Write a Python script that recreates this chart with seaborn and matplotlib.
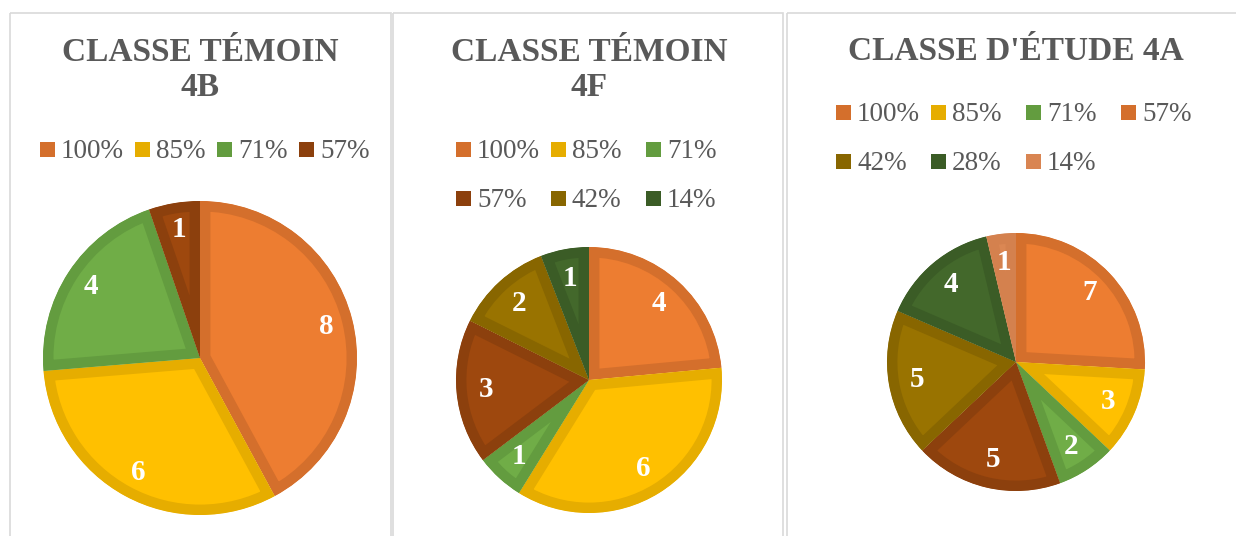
import matplotlib
matplotlib.use("Agg")
import matplotlib.pyplot as plt
from matplotlib.patches import Rectangle
import seaborn as sns

# ------------------------------------------------------------
# Data
# ------------------------------------------------------------
titles = ["CLASSE TÉMOIN\n4B", "CLASSE TÉMOIN\n4F", "CLASSE D'ÉTUDE 4A"]

labels_4b = ["100%", "85%", "71%", "57%"]
counts_4b = [8, 6, 4, 1]

labels_4f = ["100%", "85%", "71%", "57%", "42%", "14%"]
counts_4f = [4, 6, 1, 3, 2, 1]

labels_4a = ["100%", "85%", "71%", "57%", "42%", "28%", "14%"]
counts_4a = [7, 3, 2, 5, 5, 4, 1]

# Excel office palette, assigned by slice position
fill_colors = ["#ED7D31", "#FFC000", "#70AD47", "#9E480E",
               "#997300", "#43682B", "#DB8753"]
edge_colors = ["#D46F2C", "#E6AD00", "#639C3F", "#8C400D",
               "#886600", "#3B5C26", "#D4814E"]
# the legend of 4A shows 57% with the orange swatch
legend_colors_4a = ["#D46F2C", "#E6AD00", "#639C3F", "#D46F2C",
                    "#886600", "#3B5C26", "#D98552"]

# ------------------------------------------------------------
# Layout (pixels)
# ------------------------------------------------------------
W, H = 1236, 536
panels = [(10, 391), (393, 783), (787, 1240)]
centers = [(200, 358, 157), (589, 380, 133), (1016, 362, 129)]
title_y = [70, 70, 51]
legend_cols = [[40, 135, 217, 299], [456, 551, 646], [836, 931, 1026, 1121]]
legend_rows = [[150], [150, 199], [113, 162]]
label_dist = [0.83, 0.78, 0.78]

sns.set_style("white")
plt.rcParams["font.family"] = ["Liberation Serif", "DejaVu Serif"]

fig = plt.figure(figsize=(W / 100, H / 100), dpi=100)
bg = fig.add_axes([0, 0, 1, 1])
bg.set_xlim(0, W)
bg.set_ylim(H, 0)
bg.axis("off")

text_gray = "#595959"

datasets = [
    (labels_4b, counts_4b, edge_colors[:len(labels_4b)]),
    (labels_4f, counts_4f, edge_colors[:len(labels_4f)]),
    (labels_4a, counts_4a, legend_colors_4a),
]

for i, (labels, counts, leg_colors) in enumerate(datasets):
    x0, x1 = panels[i]
    # panel frame
    bg.add_patch(Rectangle((x0, 13), x1 - x0, H + 20, fill=False,
                           edgecolor="#D9D9D9", linewidth=1.2))

    # title
    cx, cy, r = centers[i]
    bg.text(cx, title_y[i], titles[i],
            ha="center", va="center", fontsize=24, fontweight="bold",
            color=text_gray, linespacing=1.15)

    # legend
    cols = legend_cols[i]
    rows = legend_rows[i]
    for k, lab in enumerate(labels):
        lx = cols[k % len(cols)]
        ly = rows[k // len(cols)]
        bg.add_patch(Rectangle((lx, ly - 8), 15, 15, facecolor=leg_colors[k],
                               edgecolor="none"))
        bg.text(lx + 21, ly + 8, lab, ha="left", va="baseline",
                fontsize=19.5, color=text_gray)

    # pie
    pad = 1.03
    ax = fig.add_axes([(cx - r * pad) / W, (H - cy - r * pad) / H,
                       2 * r * pad / W, 2 * r * pad / H])
    total = sum(counts)
    n = len(counts)
    wedges, _, autotexts = ax.pie(
        counts,
        colors=fill_colors[:n],
        startangle=90,
        counterclock=False,
        autopct=lambda p, t=total: f"{round(p * t / 100)}",
        pctdistance=label_dist[i],
        textprops={"color": "white", "fontsize": 21, "fontweight": "bold"},
        wedgeprops={"linewidth": 15, "joinstyle": "miter"},
    )
    for w, ec in zip(wedges, edge_colors[:n]):
        w.set_edgecolor(ec)
        w.set_clip_on(True)
        w.set_clip_path(w)
    ax.set_xlim(-pad, pad)
    ax.set_ylim(-pad, pad)
    ax.set_aspect("equal")
    ax.axis("off")

fig.savefig("out.png", dpi=100)
